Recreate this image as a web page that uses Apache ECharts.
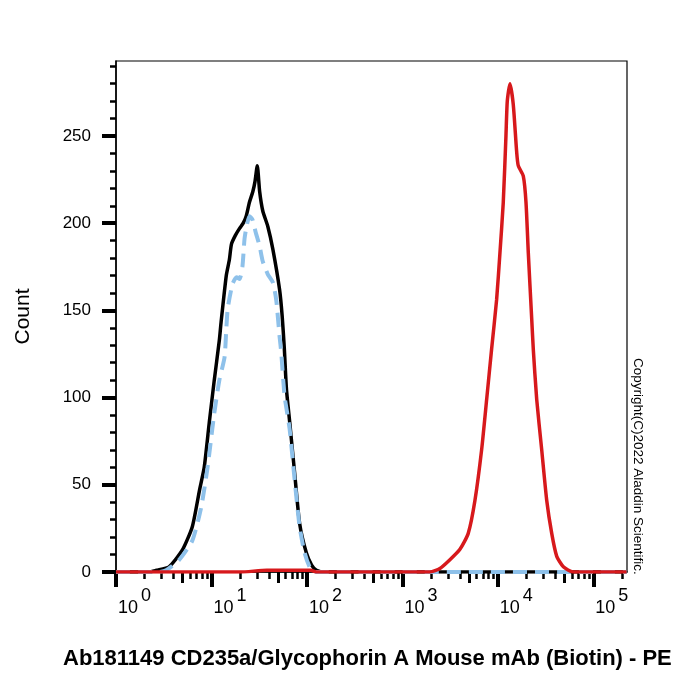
<!DOCTYPE html>
<html>
<head>
<meta charset="utf-8">
<script src="https://cdn.jsdelivr.net/npm/echarts@6/dist/echarts.min.js"></script>
<style>html,body{margin:0;padding:0;background:#fff}#c{width:700px;height:700px}</style>
</head>
<body>
<div id="c"></div>
<script>
// Fluorescence intensity (PE) and event counts
const blackX = [1, 2.2, 2.65, 3.6, 5.0, 6.3, 7.5, 8.4, 9.5, 10.7, 12.1, 12.6, 14.3, 15.4, 16.2, 17.8, 19.7, 21.5, 23.1, 25.0, 27.1, 28.6, 30.2, 32.0, 34.5, 39.0, 44.0, 51.7, 55.0, 58.0, 61.0, 66.0, 74.3, 83.8, 98.6, 112, 126, 155, 223000];
const blackY = [0, 0, 1, 3, 13, 26, 47, 60, 86, 110, 133, 143, 170, 179, 188, 193, 197, 200, 204, 212, 218, 224, 233, 218, 207, 198, 185, 162, 147, 128, 105, 86, 57, 28, 11, 4, 1, 0, 0];

const blueX = [1, 2.8, 3.35, 4.6, 6.3, 7.8, 9.1, 10.7, 12.1, 13.7, 14.3, 14.8, 16.6, 18.3, 19.7, 21.1, 22.2, 23.3, 25.0, 26.9, 29.0, 31.9, 34.5, 38.7, 44.0, 47.7, 51.7, 53.8, 58.3, 65.9, 74.3, 83.8, 94.6, 106.7, 120, 223000];
const blueY = [0, 0, 1, 7, 18, 37, 60, 91, 110, 123, 139, 151, 165, 169, 168, 175, 191, 198, 204, 202, 195, 187, 178, 171, 166, 156, 135, 126, 101, 82, 53, 26, 11, 3, 0, 0];

const redX = [1, 20, 38, 60, 110, 125, 1941, 2472, 3148, 4009, 4887, 5754, 6760, 7637, 8610, 9705, 10520, 11400, 12160, 12560, 13400, 14510, 15740, 16360, 18480, 19720, 20850, 22640, 23500, 25530, 28810, 32520, 36720, 41400, 48550, 61400, 223000];
const redY = [0, 0, 1, 1, 1, 0, 0, 2, 7, 13, 22, 41, 70, 99, 128, 156, 183, 212, 250, 270, 280, 268, 241, 233, 227, 212, 183, 145, 128, 99, 70, 41, 22, 9, 3, 0, 0];

const xDecades = [0, 1, 2, 3, 4, 5];          // tick labels 10^0 ... 10^5
const yTicks = [0, 50, 100, 150, 200, 250];
const titleText = 'Ab181149 CD235a/Glycophorin A Mouse mAb (Biotin) - PE';
const yName = 'Count';
const copyright = 'Copyright(C)2022 Aladdin Scientific.';

const X_MIN = 0, X_MAX = 5.353, Y_MIN = 0, Y_MAX = 293;
const FONT = 'Liberation Sans, Arial, Helvetica, sans-serif';

function pairs(xs, ys) { return xs.map((x, i) => [Math.log10(x), ys[i]]); }

const minorX = [], midX = [];
for (let d = 0; d <= 5; d++) {
  for (let k = 2; k <= 9; k++) {
    const v = d + Math.log10(k);
    if (v > X_MAX) continue;
    if (k === 5) midX.push(v); else minorX.push(v);
  }
}
const minorY = [];
for (let v = 10; v < Y_MAX; v += 10) if (v % 50 !== 0) minorY.push(v);

function xAx(vals, len, w, labels) {
  return {
    type: 'value', gridIndex: 0, position: 'bottom', min: X_MIN, max: X_MAX,
    axisLine: { show: labels, onZero: false, lineStyle: { color: '#000', width: 1.5 } },
    splitLine: { show: false },
    axisTick: { show: true, customValues: vals, length: len, lineStyle: { color: '#000', width: w } },
    axisLabel: labels ? {
      show: true, customValues: xDecades, align: 'left', margin: 15,
      formatter: v => '{b|10}{s|' + Math.round(v) + '}',
      rich: {
        b: { fontSize: 18, lineHeight: 30, verticalAlign: 'bottom', fontFamily: FONT, color: '#000', padding: [0, 0, 0, 2] },
        s: { fontSize: 18, lineHeight: 30, verticalAlign: 'top', fontFamily: FONT, color: '#000', padding: [0, 0, 0, 3] }
      }
    } : { show: false }
  };
}

const chart = echarts.init(document.getElementById('c'), null, { renderer: 'canvas' });
chart.setOption({
  backgroundColor: '#fff',
  animation: false,
  title: {
    text: titleText, left: 63, top: 648, padding: 0,
    textStyle: { fontSize: 22, fontWeight: 'bold', fontFamily: FONT, color: '#000' }
  },
  grid: { left: 116, right: 73, top: 61, bottom: 128, show: true, borderColor: '#000', borderWidth: 1.2, backgroundColor: 'transparent' },
  xAxis: [
    xAx(xDecades, 15, 4, true),
    xAx(minorX, 7, 2.5, false),
    xAx(midX, 11, 3, false)
  ],
  yAxis: [
    {
      type: 'value', min: Y_MIN, max: Y_MAX, position: 'left',
      name: yName, nameLocation: 'middle', nameGap: 82,
      nameTextStyle: { fontSize: 21, fontFamily: FONT, color: '#000' },
      axisLine: { show: true, lineStyle: { color: '#000', width: 1.5 } },
      splitLine: { show: false },
      axisTick: { show: true, customValues: yTicks, length: 14, lineStyle: { color: '#000', width: 4 } },
      axisLabel: { show: true, customValues: yTicks, margin: 25, fontSize: 17, fontFamily: FONT, color: '#000' }
    },
    {
      type: 'value', min: Y_MIN, max: Y_MAX, position: 'left',
      axisLine: { show: false }, splitLine: { show: false }, axisLabel: { show: false },
      axisTick: { show: true, customValues: minorY, length: 6, lineStyle: { color: '#000', width: 2.5 } }
    }
  ],
  graphic: [{
    type: 'text', x: 638, y: 358, rotation: -Math.PI / 2,
    style: { text: copyright, fontSize: 13.5, fontFamily: FONT, fill: '#000', align: 'left', verticalAlign: 'middle' }
  }],
  series: [
    { type: 'line', xAxisIndex: 0, yAxisIndex: 0, data: pairs(blackX, blackY), showSymbol: false, smooth: 0.2,
      lineStyle: { color: '#000', width: 3.5 }, z: 3 },
    { type: 'line', xAxisIndex: 0, yAxisIndex: 0, data: pairs(blueX, blueY), showSymbol: false, smooth: 0.2,
      lineStyle: { color: '#8ec1ea', width: 4, type: [14, 8] }, z: 4 },
    { type: 'line', xAxisIndex: 0, yAxisIndex: 0, data: pairs(redX, redY), showSymbol: false, smooth: 0.2,
      lineStyle: { color: '#d7191c', width: 3.5 }, z: 5 }
  ]
});
</script>
</body>
</html>
